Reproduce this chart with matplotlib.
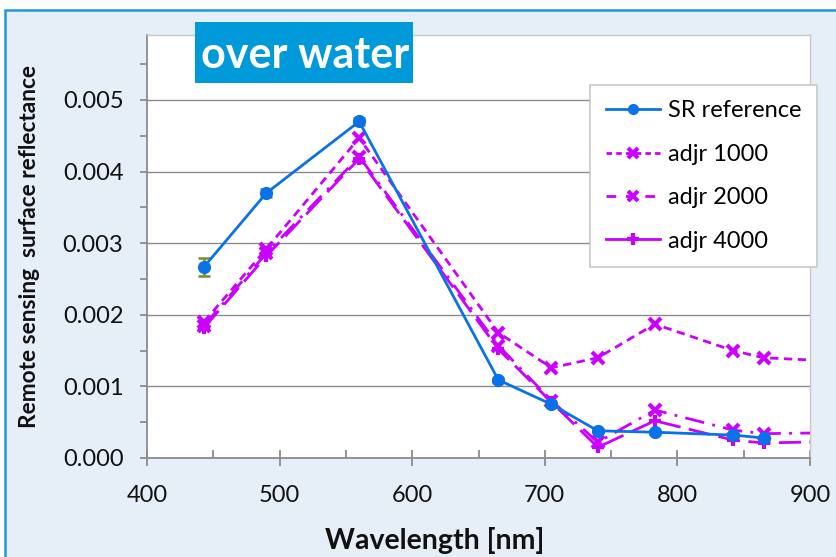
import matplotlib
matplotlib.use("Agg")
import matplotlib.pyplot as plt
from matplotlib.patches import Rectangle
from matplotlib.ticker import MultipleLocator
from matplotlib.lines import Line2D

plt.rcParams['font.family'] = ['Lato', 'DejaVu Sans']

# ---- data ----
wavelength = [443, 490, 560, 665, 705, 740, 783, 842, 865, 945]
sr_reference = [0.00267, 0.00370, 0.00470, 0.00109, 0.00075, 0.00038, 0.00036, 0.00032, 0.00028]
sr_error = [0.00013, 0.00006, 0.00005, 0.00003, 0.00003, 0.00002, 0.00002, 0.00002, 0.00002]
adjr_1000 = [0.00190, 0.00292, 0.00447, 0.00175, 0.00126, 0.00140, 0.00187, 0.00150, 0.00140, 0.00133]
adjr_2000 = [0.00185, 0.00286, 0.00421, 0.00157, 0.00080, 0.00022, 0.00067, 0.00039, 0.00034, 0.00036]
adjr_4000 = [0.00182, 0.00282, 0.00418, 0.00152, 0.00078, 0.00015, 0.00052, 0.00025, 0.00021, 0.00024]
series_labels = ["SR reference", "adjr 1000", "adjr 2000", "adjr 4000"]
title_text = "over water"
x_ticks = [400, 500, 600, 700, 800, 900]
y_ticks = [0.000, 0.001, 0.002, 0.003, 0.004, 0.005]

W, H = 836, 557
fig = plt.figure(figsize=(W / 100, H / 100), dpi=100)
fig.patch.set_facecolor('white')

# background panel with blue border
fig.patches.append(Rectangle((5 / W, -0.1), 1.2, (H - 10) / H + 0.1, transform=fig.transFigure,
                             facecolor='#E6EEF8', edgecolor='#1E9AD8', linewidth=1.8, zorder=-10))

ax = fig.add_axes([147 / W, (H - 458) / H, (810 - 147) / W, (458 - 35) / H])
ax.set_zorder(1)
ax.set_facecolor('white')

blue = '#0A72E8'
mag = '#CC00FF'

ax.plot(wavelength[:len(sr_reference)], sr_reference, color=blue, lw=2.0, marker='o', ms=8.5,
        zorder=6)
ax.errorbar(wavelength[:len(sr_reference)], sr_reference, yerr=sr_error, fmt='none',
            ecolor='#7A8B2E', elinewidth=1.8, capsize=4, capthick=1.8, zorder=5)
ax.plot(wavelength, adjr_1000, color=mag, lw=2.0, ls=(0, (3, 2)), marker='x', ms=8, mew=3, zorder=4)
ax.plot(wavelength, adjr_2000, color=mag, lw=2.0, ls=(0, (7, 3, 1, 3)), marker='x', ms=8, mew=3, zorder=4)
ax.plot(wavelength, adjr_4000, color=mag, lw=2.0, ls=(0, (8, 3)), marker='+', ms=9, mew=3, zorder=4)

ax.set_xlim(400, 900)
ax.set_ylim(0, (458 - 35) / 71.6 * 0.001)
ax.set_xticks(x_ticks)
ax.set_xticklabels([str(v) for v in x_ticks])
ax.set_yticks(y_ticks)
ax.set_yticklabels([f"{v:.3f}" for v in y_ticks])
ax.xaxis.set_minor_locator(MultipleLocator(50))
ax.yaxis.set_minor_locator(MultipleLocator(0.0005))

ax.grid(axis='y', which='major', color='#8C8C8C', lw=1.0)
ax.set_axisbelow(True)
for s in ['left', 'bottom']:
    ax.spines[s].set_color('#8C8C8C')
    ax.spines[s].set_linewidth(1.3)
for s in ['top', 'right']:
    ax.spines[s].set_color('#C8C8C8')
    ax.spines[s].set_linewidth(1.0)

ax.tick_params(axis='x', which='major', direction='inout', length=12, width=1.3, color='#8C8C8C',
               labelsize=17, pad=13.5, labelcolor='#111111')
ax.tick_params(axis='x', which='minor', direction='in', length=6, width=1.3, color='#8C8C8C')
ax.tick_params(axis='y', which='both', direction='out', length=5, width=1.3, color='#8C8C8C',
               labelsize=17, pad=12, labelcolor='#111111')

fig.text(30 / W, (H - 246) / H, "Remote sensing  surface reflectance", rotation=90, fontsize=16.3,
         fontweight='bold', ha='center', va='center', color='#111111')
fig.text(435 / W, (H - 540) / H, "Wavelength [nm]", fontsize=20.5, fontweight='bold',
         ha='center', va='center', color='#111111')

# title box
fig.patches.append(Rectangle((195 / W, (H - 83) / H), (413 - 195) / W, (83 - 22) / H,
                             transform=fig.transFigure, facecolor='#0099DA', edgecolor='none', zorder=10))
fig.text(305 / W, (H - 68) / H, title_text, fontsize=31, fontweight='bold', color='white',
         ha='center', va='baseline', zorder=11)

handles = [
    Line2D([], [], color=blue, lw=2.0, marker='o', ms=7),
    Line2D([], [], color=mag, lw=2.0, ls=(0, (2, 1.5)), marker='x', ms=7, mew=3),
    Line2D([], [], color=mag, lw=2.0, ls=(0, (3.5, 3.5)), marker='x', ms=7, mew=3),
    Line2D([], [], color=mag, lw=2.0, marker='+', ms=8, mew=3),
]
leg = ax.legend(handles, series_labels, loc='upper right',
                bbox_to_anchor=(817 / W, (H - 85) / H), bbox_transform=fig.transFigure,
                fontsize=17, frameon=True, fancybox=False, framealpha=1, edgecolor='#C8C8C8',
                handlelength=2.3, handletextpad=0.35, labelspacing=0.95, borderpad=0.65,
                borderaxespad=0)
leg.get_frame().set_linewidth(1.2)
leg.set_zorder(20)

fig.savefig("out.png", dpi=100)
